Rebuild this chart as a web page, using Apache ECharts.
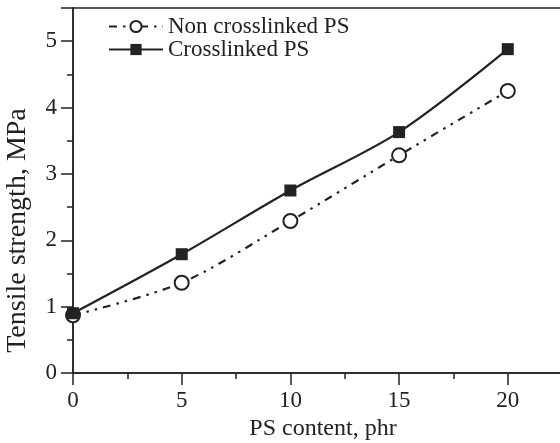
<!DOCTYPE html>
<html>
<head>
<meta charset="utf-8">
<script src="https://cdn.jsdelivr.net/npm/echarts@6/dist/echarts.min.js"></script>
<style>
html,body{margin:0;padding:0;background:#fff;}
#c{width:560px;height:443px;}
</style>
</head>
<body>
<div id="c"></div>
<script>
const psContent = [0, 5, 10, 15, 20];
const nonCrosslinked = [0.87, 1.36, 2.29, 3.28, 4.25];
const crosslinked = [0.90, 1.79, 2.75, 3.63, 4.88];
const xTicks = [0, 5, 10, 15, 20];
const yTicks = [0, 1, 2, 3, 4, 5];

const FONT = '"Liberation Serif", "Times New Roman", serif';
const INK = '#222';

const chart = echarts.init(document.getElementById('c'), null, {renderer: 'canvas'});
chart.setOption({
  backgroundColor: '#fff',
  animation: false,
  textStyle: {fontFamily: FONT, color: INK},
  grid: {left: 73, right: -13, top: 8, bottom: 70, outerBoundsMode: 'none', containLabel: false,
    show: true, borderColor: INK, borderWidth: 1.5, backgroundColor: 'transparent'},
  legend: {
    orient: 'vertical', left: 103, top: 10, itemGap: 0,
    itemWidth: 54, itemHeight: 14,
    textStyle: {fontFamily: FONT, fontSize: 23, color: INK, lineHeight: 23},
    data: ['Non crosslinked PS', 'Crosslinked PS']
  },
  xAxis: {
    type: 'value', min: 0, max: 23, interval: 5,
    name: 'PS content, phr', nameLocation: 'middle', nameGap: 37,
    nameTextStyle: {fontFamily: FONT, fontSize: 24, color: INK},
    axisLine: {show: true, lineStyle: {color: INK, width: 1.5}},
    axisTick: {show: true, inside: false, length: 12, lineStyle: {color: INK, width: 1.5}},
    minorTick: {show: true, splitNumber: 2, length: 6, lineStyle: {color: INK, width: 1.5}},
    axisLabel: {fontFamily: FONT, fontSize: 23, color: INK, margin: 16,
      formatter: v => xTicks.includes(v) ? String(v) : ''},
    splitLine: {show: false}
  },
  yAxis: {
    type: 'value', min: 0, max: 5.5, interval: 1,
    name: 'Tensile strength, MPa', nameLocation: 'middle', nameGap: 41,
    nameTextStyle: {fontFamily: FONT, fontSize: 28, color: INK, padding: [0, 80, 0, 0]},
    axisLine: {show: true, lineStyle: {color: INK, width: 1.5}},
    axisTick: {show: true, inside: false, length: 12, lineStyle: {color: INK, width: 1.5}},
    minorTick: {show: true, splitNumber: 2, length: 6, lineStyle: {color: INK, width: 1.5}},
    axisLabel: {fontFamily: FONT, fontSize: 23, color: INK, margin: 16,
      formatter: v => yTicks.includes(v) ? String(v) : ''},
    splitLine: {show: false}
  },
  series: [
    {
      name: 'Non crosslinked PS', type: 'line', z: 2,
      data: psContent.map((x, i) => [x, nonCrosslinked[i]]),
      smooth: 0.3,
      symbol: 'circle', symbolSize: 14,
      itemStyle: {color: '#fff', borderColor: INK, borderWidth: 2},
      lineStyle: {color: INK, width: 2.2, type: [8, 6, 2.5, 6, 2.5, 6]}
    },
    {
      name: 'Crosslinked PS', type: 'line', z: 3,
      data: psContent.map((x, i) => [x, crosslinked[i]]),
      smooth: 0.3,
      symbol: 'rect', symbolSize: 12,
      itemStyle: {color: INK, borderColor: INK, borderWidth: 0},
      lineStyle: {color: INK, width: 2.2, type: 'solid'}
    }
  ]
});
</script>
</body>
</html>
